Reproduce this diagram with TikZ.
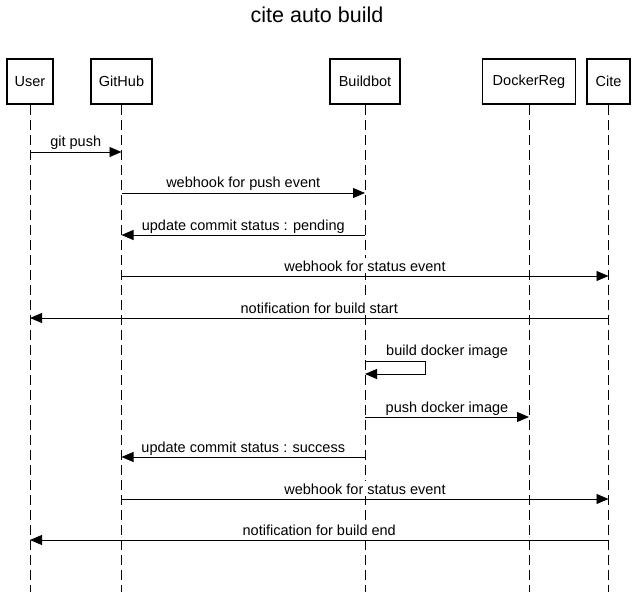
\documentclass[tikz,border=0pt]{standalone}
\usepackage{fontspec}
\setmainfont{Liberation Sans}
\usetikzlibrary{arrows.meta}
\begin{document}
\begin{tikzpicture}[x=1bp,y=-1bp,
  actor/.style={draw,line width=1.6bp,minimum height=45bp,inner sep=0pt,font=\fontsize{14.5bp}{17bp}\selectfont},
  life/.style={line width=0.9bp,dash pattern=on 10bp off 5bp},
  msg/.style={line width=0.9bp,-{Triangle[length=12bp,width=10bp]}},
  lbl/.style={anchor=base,yshift=5bp,inner xsep=1bp,inner ysep=2bp,fill=white,font=\fontsize{14.5bp}{17bp}\selectfont}]
\useasboundingbox (0,0) rectangle (635,592);
\node[font=\fontsize{21.5bp}{25bp}\selectfont,anchor=base] (title) at (317,23) {cite auto build};
\node[actor,minimum width=46bp] (user) at (30,81.5) {User};
\node[actor,minimum width=61bp] (github) at (121.5,81.5) {GitHub};
\node[actor,minimum width=70bp] (buildbot) at (365,81.5) {Buildbot};
\node[actor,minimum width=93bp] (docker) at (529,81.5) {DockerReg};
\node[actor,minimum width=43bp] (cite) at (608.5,81.5) {Cite};
\foreach \n in {user,github,buildbot,docker,cite}{
  \coordinate (\n-end) at (\n |- 0,592);
  \draw[life] (\n.south) -- (\n-end);
}
\draw[msg] (user |- 0,152) -- node[lbl]{git push} (github |- 0,152);
\draw[msg] (github |- 0,193) -- node[lbl]{webhook for push event} (buildbot |- 0,193);
\draw[msg] (buildbot |- 0,235) -- node[lbl]{update commit status : pending} (github |- 0,235);
\draw[msg] (github |- 0,276) -- node[lbl]{webhook for status event} (cite |- 0,276);
\draw[msg] (cite |- 0,318) -- node[lbl]{notification for build start} (user |- 0,318);
\coordinate (selfA) at (buildbot |- 0,361);
\coordinate (selfB) at (buildbot |- 0,374);
\draw[msg] (selfA) -- ++(60,0) |- (selfB);
\node[lbl,anchor=base west] (selflbl) at ([xshift=20bp]buildbot |- 0,360) {build docker image};
\draw[msg] (buildbot |- 0,417) -- node[lbl]{push docker image} (docker |- 0,417);
\draw[msg] (buildbot |- 0,457) -- node[lbl]{update commit status : success} (github |- 0,457);
\draw[msg] (github |- 0,499) -- node[lbl]{webhook for status event} (cite |- 0,499);
\draw[msg] (cite |- 0,540) -- node[lbl]{notification for build end} (user |- 0,540);
\end{tikzpicture}
\end{document}
